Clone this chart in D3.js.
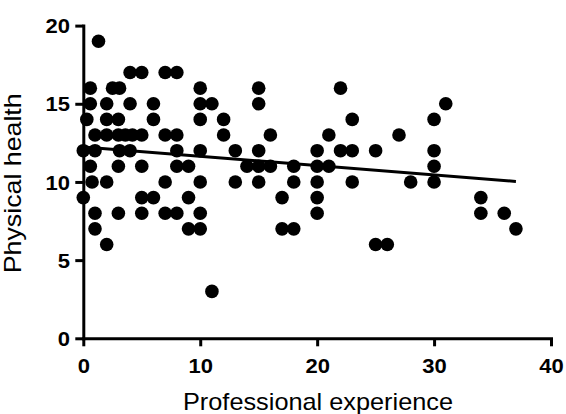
<!DOCTYPE html>
<html lang="en">
<head>
  <meta charset="utf-8"/>
  <title>Physical health vs professional experience</title>
  <script src="https://d3js.org/d3.v7.min.js"></script>
  <style>
    body { margin: 0; background: #fff; }
    svg { display: block; }
    .axis path, .axis line { stroke: #000; stroke-width: 3px; }
    .axis text { font-family: "Liberation Sans", Arial, sans-serif; font-weight: bold; font-size: 20px; fill: #000; }
    .title { font-family: "Liberation Sans", Arial, sans-serif; font-size: 24px; fill: #000; }
  </style>
</head>
<body>
<svg id="chart" width="566" height="414"></svg>
<script>
  // points, grouped by physical health score
  const healthLevels = [19, 17, 16, 15, 14, 13, 12, 11, 10, 9, 8, 7, 6, 3];
  const experienceByLevel = [
    [1.3],
    [4, 5, 7, 8],
    [0.6, 2.5, 3.1, 10, 15, 22],
    [0.6, 2, 4, 6, 10, 11, 15, 31],
    [0.3, 2, 3, 6, 10, 12, 23, 30],
    [1, 2, 3, 3.6, 4.2, 5, 7, 8, 12, 16, 21, 27],
    [0, 1, 3.1, 4, 8, 10, 13, 15, 20, 22, 23, 25, 30],
    [0.6, 3, 5, 8, 9, 14, 15, 16, 18, 20, 21, 30],
    [0.75, 2, 7, 10, 13, 15, 18, 20, 23, 28, 30],
    [0, 5, 6, 9, 17, 20, 34],
    [1, 3, 5, 7, 8, 10, 20, 34, 36],
    [1, 9, 10, 17, 18, 37],
    [2, 25, 26],
    [11]
  ];
  // regression line end points (experience, health)
  const fitLine = [[0, 12.24], [37, 10.03]];
  const xTicks = [0, 10, 20, 30, 40];
  const yTicks = [0, 5, 10, 15, 20];

  const data = [];
  healthLevels.forEach(function(h, i) {
    experienceByLevel[i].forEach(function(e) { data.push({ exp: e, health: h }); });
  });

  const svg = d3.select("#chart");
  const xScale = d3.scaleLinear().domain([0, 40]).range([83.3, 551]);
  const yScale = d3.scaleLinear().domain([0, 20]).range([338.3, 25.6]);

  svg.selectAll("circle")
    .data(data)
    .enter()
    .append("circle")
    .attr("cx", d => xScale(d.exp))
    .attr("cy", d => yScale(d.health))
    .attr("r", 6.8)
    .attr("fill", "#000");

  svg.append("line")
    .attr("x1", xScale(fitLine[0][0]))
    .attr("y1", yScale(fitLine[0][1]))
    .attr("x2", xScale(fitLine[1][0]))
    .attr("y2", yScale(fitLine[1][1]))
    .attr("stroke", "#000")
    .attr("stroke-width", 3);

  const xAxis = svg.append("g")
    .attr("class", "axis")
    .attr("transform", `translate(0,${yScale(0)})`)
    .call(d3.axisBottom(xScale).tickValues(xTicks).tickFormat(d3.format("d")).tickSize(8).tickSizeOuter(0));
  xAxis.selectAll("text")
    .attr("y", 34.4)
    .attr("dy", 0)
    .attr("transform", "scale(1.1,1)");

  const yAxis = svg.append("g")
    .attr("class", "axis")
    .attr("transform", `translate(${xScale(0)},0)`)
    .call(d3.axisLeft(yScale).tickValues(yTicks).tickFormat(d3.format("d")).tickSize(8).tickSizeOuter(0));
  yAxis.selectAll("text")
    .attr("x", -13.3 / 1.1)
    .attr("dy", "0.36em")
    .attr("transform", "scale(1.1,1)");
  svg.selectAll(".axis path").attr("stroke-linecap", "square");

  svg.append("text")
    .attr("class", "title")
    .attr("x", 318)
    .attr("y", 409.5)
    .attr("text-anchor", "middle")
    .attr("textLength", 270)
    .attr("lengthAdjust", "spacingAndGlyphs")
    .text("Professional experience");

  svg.append("text")
    .attr("class", "title")
    .attr("transform", "translate(20.7,183.3) rotate(-90)")
    .attr("text-anchor", "middle")
    .attr("textLength", 180)
    .attr("lengthAdjust", "spacingAndGlyphs")
    .text("Physical health");
</script>
</body>
</html>
